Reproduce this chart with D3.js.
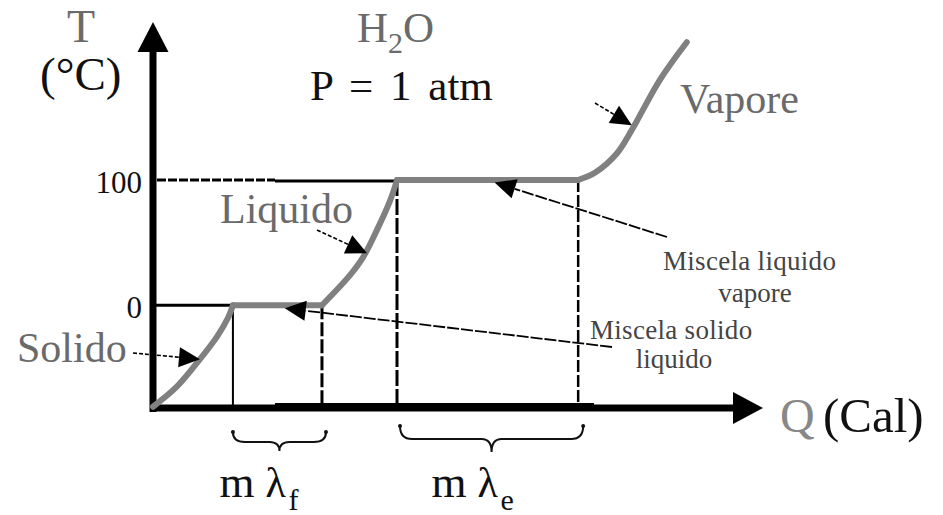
<!DOCTYPE html>
<html><head><meta charset="utf-8">
<script src="https://cdn.jsdelivr.net/npm/d3@7"></script>
<style>
body{margin:0;background:#fff}
svg{display:block}
text{font-family:"Liberation Serif","Times New Roman",serif}
</style>
</head><body>
<svg id="c" width="943" height="515"></svg>
<script>
// ---------- data ----------
const tempTicks = [0, 100];
// heat Q (arbitrary units) at which the phase changes start / end
const transitionQ = [13.1, 27.7, 40, 69.7];
const solidQ  = [0, 3.9, 7.7, 10.5, 12.3, 13.1];
const solidT  = [-81, -65, -43, -25, -10, 0];
const fusionQ = [13.1, 27.7];
const fusionT = [0, 0];
const liquidQ = [27.7, 32.3, 34.4, 36.7, 38.9, 40];
const liquidT = [0, 24, 38, 60, 84, 100];
const boilQ   = [40, 69.7];
const boilT   = [100, 100];
const vaporQ  = [69.7, 72.5, 76, 78.5, 83.1, 87.5];
const vaporT  = [100, 106, 121, 140, 180, 210];
const phaseNames  = ["Solido", "Liquido", "Vapore"];
const phaseArrowQ = [7.7, 35.1, 78.5];
const phaseArrowT = [-43, 41.5, 143.7];
const mixNames    = [["Miscela solido", "liquido"], ["Miscela liquido", "vapore"]];
const mixArrowQ   = [21.6, 56];
const mixArrowT   = [-2.4, 98];
const braceLabels = [["m", "λ", "f"], ["m", "λ", "e"]];

// ---------- scales ----------
const svg = d3.select("#c");
const x = d3.scaleLinear().domain([0, 100]).range([153, 763]);
const y = d3.scaleLinear().domain([-82, 100]).range([408, 180]);
const BLACK = "#000", GREY = "#808080", TXTG = "#6a6a6a";

// ---------- reference lines ----------
svg.append("line").attr("x1", x(0) + 4).attr("x2", x(20)).attr("y1", y(100)).attr("y2", y(100))
  .attr("stroke", BLACK).attr("stroke-width", 3).attr("stroke-dasharray", "9,2");
svg.append("line").attr("x1", x(20)).attr("x2", x(transitionQ[2])).attr("y1", y(100) + 1).attr("y2", y(100) + 1)
  .attr("stroke", BLACK).attr("stroke-width", 3);
svg.append("line").attr("x1", x(0)).attr("x2", x(transitionQ[0])).attr("y1", y(0)).attr("y2", y(0))
  .attr("stroke", BLACK).attr("stroke-width", 3);
const vStyles = [{w: 2, d: null}, {w: 3, d: "14,3"}, {w: 3, d: "16,3"}, {w: 2.5, d: "12,3"}];
transitionQ.forEach((q, i) => {
  const l = svg.append("line").attr("x1", x(q)).attr("x2", x(q))
    .attr("y1", y(i < 2 ? 0 : 100)).attr("y2", y(-82))
    .attr("stroke", BLACK).attr("stroke-width", vStyles[i].w);
  if (vStyles[i].d) l.attr("stroke-dasharray", vStyles[i].d);
});

// ---------- axes ----------
svg.append("line").attr("x1", x(0) - 3).attr("x2", 734).attr("y1", y(-82)).attr("y2", y(-82))
  .attr("stroke", BLACK).attr("stroke-width", 7);
svg.append("line").attr("x1", x(20)).attr("x2", x(72.3)).attr("y1", y(-82) - 4).attr("y2", y(-82) - 4)
  .attr("stroke", BLACK).attr("stroke-width", 2);
svg.append("path").attr("d", `M733,${y(-82) - 16}L${x(100)},${y(-82)}L733,${y(-82) + 16}Z`).attr("fill", BLACK);
svg.append("line").attr("x1", x(0)).attr("x2", x(0)).attr("y1", y(-82) + 4).attr("y2", 50)
  .attr("stroke", BLACK).attr("stroke-width", 7);
svg.append("path").attr("d", `M${x(0) - 15.5},52L${x(0)},22L${x(0) + 15.5},52Z`).attr("fill", BLACK);

const yAx = svg.append("g").attr("transform", `translate(${x(0)},0)`)
  .call(d3.axisLeft(y).tickValues(tempTicks).tickSize(0).tickPadding(11).tickFormat(d3.format("d")));
yAx.select(".domain").remove();
yAx.selectAll("text").attr("font-size", 31).attr("font-family", '"Liberation Serif","Times New Roman",serif')
  .attr("fill", "#111").attr("dy", "0.4em");

// ---------- heating curve ----------
const line = d3.line().x(d => x(d[0])).y(d => y(d[1])).curve(d3.curveCatmullRom.alpha(0.5));
[[solidQ, solidT], [fusionQ, fusionT], [liquidQ, liquidT], [boilQ, boilT], [vaporQ, vaporT]].forEach(([qs, ts]) => {
  svg.append("path").attr("d", line(qs.map((q, i) => [q, ts[i]])))
    .attr("fill", "none").attr("stroke", GREY).attr("stroke-width", 6)
    .attr("stroke-linecap", "round").attr("stroke-linejoin", "round");
});

// ---------- annotation arrows ----------
function arrow(x0, y0, x1, y1, dash, w) {
  const a = Math.atan2(y1 - y0, x1 - x0), L = 21, H = 10;
  const bx = x1 - L * Math.cos(a), by = y1 - L * Math.sin(a);
  svg.append("line").attr("x1", x0).attr("y1", y0).attr("x2", bx).attr("y2", by)
    .attr("stroke", BLACK).attr("stroke-width", w).attr("stroke-dasharray", dash);
  const px = -Math.sin(a) * H, py = Math.cos(a) * H;
  svg.append("path").attr("d", `M${x1},${y1}L${bx + px},${by + py}L${bx - px},${by - py}Z`).attr("fill", BLACK);
}
const phaseStart = [[133, 353], [317, 230], [595, 103]];
phaseNames.forEach((n, i) => arrow(phaseStart[i][0], phaseStart[i][1], x(phaseArrowQ[i]), y(phaseArrowT[i]), "4,2", 1.6));
const mixStart = [[612, 347], [667, 237]];
mixNames.forEach((n, i) => arrow(mixStart[i][0], mixStart[i][1], x(mixArrowQ[i]), y(mixArrowT[i]), "12,2", 1.8));

// ---------- braces ----------
function brace(x1, x2, yEnd, yMid, yTip) {
  const xc = (x1 + x2) / 2;
  const d = `M${x1},${yEnd}Q${x1},${yMid} ${x1 + 12},${yMid}L${xc - 10},${yMid}Q${xc},${yMid} ${xc},${yTip}` +
            `M${x2},${yEnd}Q${x2},${yMid} ${x2 - 12},${yMid}L${xc + 10},${yMid}Q${xc},${yMid} ${xc},${yTip}`;
  svg.append("path").attr("d", d).attr("fill", "none").attr("stroke", "#111").attr("stroke-width", 2);
  [x1, x2].forEach(xx => svg.append("circle").attr("cx", xx).attr("cy", yEnd).attr("r", 2).attr("fill", "#111"));
  return xc;
}
const braceSpans = [[x(transitionQ[0]), x(transitionQ[1]) + 4, 432, 442, 451], [x(transitionQ[2]) + 3, x(transitionQ[3]) + 5, 426, 439, 452]];
braceSpans.forEach((b, i) => {
  const xc = brace(...b);
  const [m, lam, sub] = braceLabels[i];
  svg.append("text").attr("x", xc - 60).attr("y", 497).attr("font-size", 45).attr("fill", "#111").text(m);
  svg.append("text").attr("x", xc - 14).attr("y", 497).attr("font-size", 42)
    .attr("font-family", '"DejaVu Serif","Liberation Serif",serif').attr("fill", "#111").text(lam);
  svg.append("text").attr("x", xc + 9).attr("y", 510).attr("font-size", 30).attr("fill", "#111").text(sub);
});

// ---------- texts ----------
function txt(s, xx, yy, size, fill, anchor) {
  return svg.append("text").attr("x", xx).attr("y", yy).attr("font-size", size).attr("fill", fill)
    .attr("text-anchor", anchor || "start").text(s);
}
txt("T", 67, 42, 46, TXTG);
txt("(°C)", 40, 90, 47, "#111");
const h = svg.append("text").attr("x", 357).attr("y", 42).attr("font-size", 43).attr("fill", TXTG);
h.append("tspan").text("H");
h.append("tspan").attr("font-size", 30).attr("dy", 11).text("2");
h.append("tspan").attr("dy", -11).text("O");
txt("P = 1 atm", 310, 100, 43, "#111").attr("word-spacing", 6);
const phasePos = [[17, 362], [220, 223], [680, 113]];
phaseNames.forEach((n, i) => txt(n, phasePos[i][0], phasePos[i][1], 42, TXTG));
const mixPos = [[590, 339, 674, 368], [663, 270, 755, 302]];
mixNames.forEach((n, i) => {
  txt(n[0], mixPos[i][0], mixPos[i][1], 27, "#444").attr("letter-spacing", 0.3);
  txt(n[1], mixPos[i][2], mixPos[i][3], 27, "#444", "middle");
});
txt("Q", 780, 432, 48, "#888");
txt("(Cal)", 823, 432, 49, "#111");
</script>
</body></html>
